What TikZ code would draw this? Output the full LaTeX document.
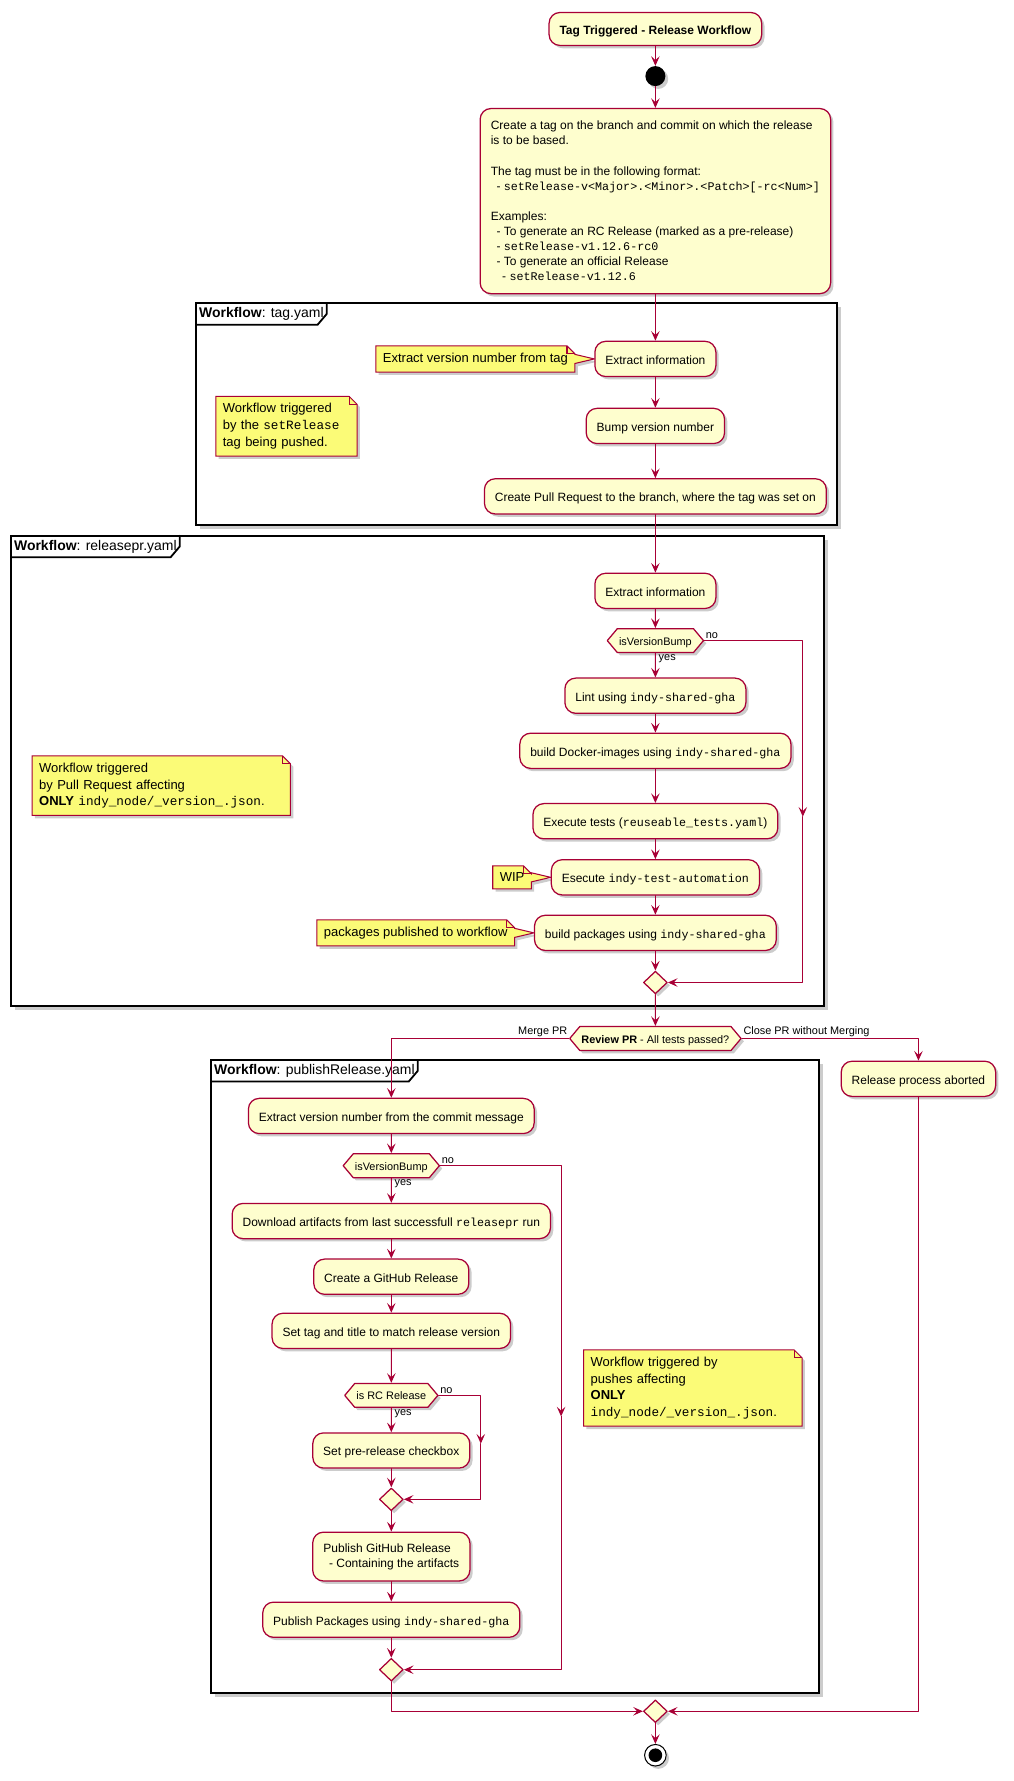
\documentclass[tikz,border=0pt]{standalone}
\usepackage{fontspec}
\setmainfont{Liberation Sans}
\setmonofont[Scale=0.975]{Liberation Mono}
\usetikzlibrary{arrows.meta,shapes.geometric,shapes.symbols,shadows}

\definecolor{pumlred}{HTML}{A80036}
\definecolor{pumlbg}{HTML}{FEFECE}
\definecolor{pumlnote}{HTML}{FBFB77}

\newcommand{\actfont}{\fontsize{10.57}{13.3}\selectfont}
\newcommand{\notefont}{\fontsize{11.45}{14.7}\selectfont}
\newcommand{\lblfont}{\fontsize{9.6}{11.5}\selectfont}
\newcommand{\framefont}{\fontsize{12.3}{14}\selectfont}

% note body with a tail pointing at an activity
\newcommand{\notetail}[2]{%
  \path[notebg] (#1.north west) -- ([xshift=-7pt]#1.north east) -- ([yshift=-7pt]#1.north east)
    -- ([yshift=4pt]#1.east) -- (#2.west) -- ([yshift=-4pt]#1.east) -- (#1.south east) -- (#1.south west) -- cycle;
  \draw[pumlred, line width=0.9pt] ([xshift=-7pt]#1.north east) -- ++(0,7) -- ++(7,0);}
% free note body
\newcommand{\noteplain}[1]{%
  \path[notebg] (#1.north west) -- ([xshift=-7pt]#1.north east) -- ([yshift=-7pt]#1.north east)
    -- (#1.south east) -- (#1.south west) -- cycle;
  \draw[pumlred, line width=0.9pt] ([xshift=-7pt]#1.north east) -- ++(0,7) -- ++(7,0);}

\pgfdeclarelayer{bg}
\pgfsetlayers{bg,main}

\begin{document}
\begin{tikzpicture}[x=1pt, y=-1pt, line cap=round, line join=round,
  >={Stealth[length=8.5pt,width=7.5pt,inset=3.5pt]},
  softshadow/.style={drop shadow={shadow xshift=2.5pt,shadow yshift=-2.5pt,opacity=0.2,fill=black}},
  act/.style={draw=pumlred, fill=pumlbg, line width=1.1pt, rounded corners=9.5pt, font=\actfont,
    inner xsep=9.2pt, inner ysep=0pt, minimum height=31pt, text height=9.5pt, text depth=0pt, softshadow},
  actm/.style={draw=pumlred, fill=pumlbg, line width=1.1pt, rounded corners=9.5pt, font=\actfont,
    inner xsep=9.4pt, inner ysep=0pt, align=left, softshadow},
  hexa/.style={signal, signal to=east and west, signal pointer angle=100, draw=pumlred, fill=pumlbg,
    line width=1.1pt, font=\lblfont, inner xsep=1.5pt, inner ysep=0pt, minimum height=21pt,
    text height=8pt, text depth=0pt, softshadow},
  merge/.style={diamond, draw=pumlred, fill=pumlbg, line width=1.1pt, minimum width=21pt,
    minimum height=20pt, inner sep=0pt, softshadow},
  note/.style={font=\notefont, align=left, inner xsep=6pt, inner ysep=6pt},
  notebg/.style={draw=pumlred, fill=pumlnote, line width=0.9pt, line join=miter, softshadow},
  flow/.style={->, draw=pumlred, line width=0.9pt},
  lbl/.style={font=\lblfont, inner sep=1pt},
  frame/.style={draw=black, fill=white, line width=1.6pt, line join=miter},
  ftitle/.style={font=\framefont, anchor=north west, minimum height=18.5pt, inner xsep=2.5pt, inner ysep=0pt},
  tab/.style={draw=black, line width=1.6pt, line join=miter}]
  \useasboundingbox (0,0) rectangle (892,1568);

  % Frames
  \begin{pgfonlayer}{bg}
    \fill[black!20] (176.1,270.5) rectangle (740.5,466);
    \draw[frame] (172.6,267) rectangle (737,462.5);
    \fill[black!20] (13.2,475.2) rectangle (729.3,889);
    \draw[frame] (9.7,471.7) rectangle (725.8,885.5);
    \fill[black!20] (189.3,936.8) rectangle (724.9,1494.3);
    \draw[frame] (185.8,933.3) rectangle (721.4,1490.8);
  \end{pgfonlayer}
  \node[ftitle] (f1t) at (172.6,267) {\textbf{Workflow}: tag.yaml\hspace{5pt}};
  \draw[tab] (f1t.south west) -- ([xshift=-8pt]f1t.south east) -- (f1t.east) -- (f1t.north east);
  \node[ftitle] (f2t) at (9.7,471.7) {\textbf{Workflow}: releasepr.yaml\hspace{4pt}};
  \draw[tab] (f2t.south west) -- ([xshift=-8pt]f2t.south east) -- (f2t.east) -- (f2t.north east);
  \node[ftitle] (f3t) at (185.8,933.3) {\textbf{Workflow}: publishRelease.yaml\hspace{4pt}};
  \draw[tab] (f3t.south west) -- ([xshift=-8pt]f3t.south east) -- (f3t.east) -- (f3t.north east);

  % Start
  \node[act, font=\actfont\bfseries, minimum height=29pt] (title) at (577,25.5) {Tag Triggered - Release Workflow};
  \node[circle, fill=black, minimum size=17.6pt, inner sep=0pt, softshadow] (start) at (577,67) {};
  \node[actm, anchor=north, minimum height=163pt] (intro) at (577,95) {Create a tag on the branch and commit on which the release\\
    is to be based.\\[13.3pt]
    The tag must be in the following format:\\
    \hspace*{5pt}- \texttt{setRelease-v<Major>.<Minor>.<Patch>[-rc<Num>]}\\[13.3pt]
    Examples:\\
    \hspace*{5pt}- To generate an RC Release (marked as a pre-release)\\
    \hspace*{5pt}- \texttt{setRelease-v1.12.6-rc0}\\
    \hspace*{5pt}- To generate an official Release\\
    \hspace*{10pt}- \texttt{setRelease-v1.12.6}};

  % tag.yaml
  \node[act] (extract1) at (577,316) {Extract information};
  \node[act] (bump) at (577,375) {Bump version number};
  \node[act] (createpr) at (577,437) {Create Pull Request to the branch, where the tag was set on};
  \node[note, anchor=east] (n1) at ([xshift=-17pt]extract1.west) {Extract version number from tag};
  \node[note, anchor=north west, text width=112pt] (n2) at (190,349) {Workflow triggered\\by the \texttt{setRelease}\\tag being pushed.};

  % releasepr.yaml
  \node[act] (extract2) at (577,520.2) {Extract information};
  \node[hexa] (hex1) at (577,564) {isVersionBump};
  \node[act] (lint) at (577,612.5) {Lint using \texttt{indy-shared-gha}};
  \node[act] (docker) at (577,661) {build Docker-images using \texttt{indy-shared-gha}};
  \node[act] (tests) at (577,723) {Execute tests (\texttt{reuseable\_tests.yaml})};
  \node[act] (esec) at (577,772.4) {Esecute \texttt{indy-test-automation}};
  \node[act] (bpkg) at (577,821.3) {build packages using \texttt{indy-shared-gha}};
  \node[merge] (m1) at (577,865) {};
  \node[note, anchor=east] (n3) at ([xshift=-17pt]esec.west) {WIP};
  \node[note, anchor=east] (n4) at ([xshift=-17pt]bpkg.west) {packages published to workflow};
  \node[note, anchor=north west, text width=215pt] (n5) at (28.3,665.5) {Workflow triggered\\by Pull Request affecting\\\textbf{ONLY} \texttt{indy\_node/\_version\_.json}.};

  % review
  \node[hexa] (rev) at (577,914.3) {\textbf{Review PR} - All tests passed?};
  \node[act] (abort) at (808.6,949.8) {Release process aborted};

  % publishRelease.yaml
  \node[act] (extractv) at (344.5,982.5) {Extract version number from the commit message};
  \node[hexa] (hex2) at (344.5,1026.3) {isVersionBump};
  \node[act] (download) at (344.5,1075) {Download artifacts from last successfull \texttt{releasepr} run};
  \node[act] (creategh) at (344.5,1124) {Create a GitHub Release};
  \node[act] (settag) at (344.5,1171.7) {Set tag and title to match release version};
  \node[hexa] (hex3) at (344.5,1228.5) {is RC Release};
  \node[act] (setpre) at (344.5,1277) {Set pre-release checkbox};
  \node[merge] (m2) at (344.5,1320) {};
  \node[actm, minimum height=43pt] (pubgh) at (344.5,1370.4) {Publish GitHub Release\\\hspace*{5pt}- Containing the artifacts};
  \node[act] (pubpkg) at (344.5,1426) {Publish Packages using \texttt{indy-shared-gha}};
  \node[merge] (m3) at (344.5,1470) {};
  \node[note, anchor=north west, text width=180pt] (n6) at (513.8,1188.5) {Workflow triggered by\\pushes affecting\\\textbf{ONLY}\\\texttt{indy\_node/\_version\_.json}.};

  % End
  \node[merge] (fm) at (577,1506.6) {};
  \node[circle, draw=black, fill=white, line width=0.9pt, minimum size=19pt, inner sep=0pt, softshadow] (end) at (577,1545.3) {};
  \fill (end.center) circle (6pt);

  % Notes
  \begin{pgfonlayer}{bg}
    \notetail{n1}{extract1}
    \noteplain{n2}
    \notetail{n3}{esec}
    \notetail{n4}{bpkg}
    \noteplain{n5}
    \noteplain{n6}
  \end{pgfonlayer}

  % Connectors
  \draw[flow] (title) -- (start);
  \draw[flow] (start) -- (intro);
  \draw[flow] (intro) -- (extract1);
  \draw[flow] (extract1) -- (bump);
  \draw[flow] (bump) -- (createpr);
  \draw[flow] (createpr) -- (extract2);
  \draw[flow] (extract2) -- (hex1);
  \draw[flow] (hex1) -- (lint) node[lbl, pos=0, anchor=north west, xshift=1.5pt] {yes};
  \draw[flow] (lint) -- (docker);
  \draw[flow] (docker) -- (tests);
  \draw[flow] (tests) -- (esec);
  \draw[flow] (esec) -- (bpkg);
  \draw[flow] (bpkg) -- (m1);
  \coordinate (no1) at (706.8,719);
  \draw[flow] (hex1.east) node[lbl, anchor=south west] {no} -| (no1);
  \draw[flow] (no1) |- (m1.east);
  \draw[flow] (m1) -- (rev);
  \draw[flow] (rev.west) node[lbl, anchor=south east] {Merge PR} -| (extractv.north);
  \draw[flow] (rev.east) node[lbl, anchor=south west] {Close PR without Merging} -| (abort.north);

  \draw[flow] (extractv) -- (hex2);
  \draw[flow] (hex2) -- (download) node[lbl, pos=0, anchor=north west, xshift=1.5pt] {yes};
  \draw[flow] (download) -- (creategh);
  \draw[flow] (creategh) -- (settag);
  \draw[flow] (settag) -- (hex3);
  \draw[flow] (hex3) -- (setpre) node[lbl, pos=0, anchor=north west, xshift=1.5pt] {yes};
  \draw[flow] (setpre) -- (m2);
  \coordinate (no3) at (423.3,1271);
  \draw[flow] (hex3.east) node[lbl, anchor=south west] {no} -| (no3);
  \draw[flow] (no3) |- (m2.east);
  \draw[flow] (m2) -- (pubgh);
  \draw[flow] (pubgh) -- (pubpkg);
  \draw[flow] (pubpkg) -- (m3);
  \coordinate (no2) at (494,1247);
  \draw[flow] (hex2.east) node[lbl, anchor=south west] {no} -| (no2);
  \draw[flow] (no2) |- (m3.east);

  \draw[flow] (m3.south) |- (fm.west);
  \draw[flow] (abort.south) |- (fm.east);
  \draw[flow] (fm) -- (end);
\end{tikzpicture}
\end{document}
